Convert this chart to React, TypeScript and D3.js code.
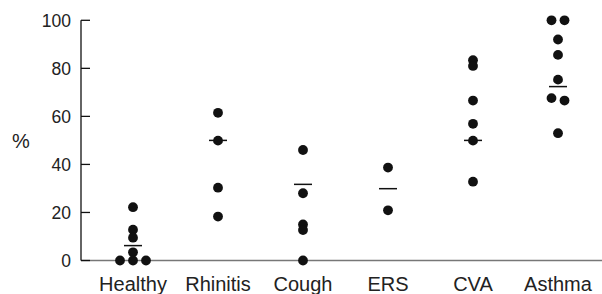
import React from "react";
import * as d3 from "d3";

const categories = ["Healthy", "Rhinitis", "Cough", "ERS", "CVA", "Asthma"];
const healthy = [0, 0, 0, 3.4, 9.5, 12.8, 22.2];
const rhinitis = [61.5, 49.9, 30.3, 18.3];
const cough = [46, 28, 15, 12.7, 0];
const ers = [38.7, 20.9];
const cva = [83.4, 81, 66.6, 56.9, 49.9, 32.8];
const asthma = [100, 100, 92, 85.6, 75.3, 67.6, 66.6, 53];
const seriesValues = [healthy, rhinitis, cough, ers, cva, asthma];
const meanValues = [6.2, 50, 31.7, 29.9, 50, 72.4];
const yTicks = [0, 20, 40, 60, 80, 100];

const W = 602;
const H = 294;

export default function App() {
  const x = d3.scalePoint<string>().domain(categories).range([133, 558]);
  const y = d3.scaleLinear().domain([0, 100]).range([260.5, 20.3]);
  const r = 4.9;
  const spacing = 13;
  const axisX = 81;

  const dots: { cx: number; cy: number; key: string }[] = [];
  seriesValues.forEach((vals, ci) => {
    const cx0 = x(categories[ci]) as number;
    const sorted = [...vals].sort((a, b) => b - a);
    // cluster points whose pixel positions nearly coincide
    const clusters: number[][] = [];
    sorted.forEach((v) => {
      const last = clusters[clusters.length - 1];
      if (last && Math.abs(y(last[0]) - y(v)) < 4) last.push(v);
      else clusters.push([v]);
    });
    clusters.forEach((cl, k) => {
      cl.forEach((v, i) => {
        dots.push({
          cx: cx0 + (i - (cl.length - 1) / 2) * spacing,
          cy: y(v),
          key: `${ci}-${k}-${i}`,
        });
      });
    });
  });

  return (
    <svg width={W} height={H} style={{ position: "absolute", left: 0, top: 0 }}>
      <rect width={W} height={H} fill="#fff" />
      {/* x axis */}
      <line x1={axisX} x2={W} y1={y(0)} y2={y(0)} stroke="#777" strokeWidth={1.6} />
      {/* y axis */}
      <line x1={axisX} x2={axisX} y1={y(100)} y2={y(0)} stroke="#111" strokeWidth={1.3} />
      {yTicks.map((t) => (
        <g key={t}>
          <line x1={axisX} x2={axisX + 9} y1={y(t)} y2={y(t)} stroke="#111" strokeWidth={1.3} />
          <text
            x={71}
            y={y(t)}
            dy="0.36em"
            textAnchor="end"
            fontFamily="Liberation Sans, Arial, sans-serif"
            fontSize={17.5}
            fill="#222"
          >
            {t}
          </text>
        </g>
      ))}
      <text x={21} y={148} textAnchor="middle" fontFamily="Liberation Sans, Arial, sans-serif" fontSize={20} fill="#222">
        %
      </text>
      {categories.map((c) => (
        <text
          key={c}
          x={x(c)}
          y={291}
          textAnchor="middle"
          fontFamily="Liberation Sans, Arial, sans-serif"
          fontSize={20}
          fill="#222"
        >
          {c}
        </text>
      ))}
      {dots.map((d) => (
        <circle key={d.key} cx={d.cx} cy={d.cy} r={r} fill="#111" />
      ))}
      {meanValues.map((m, i) => (
        <line
          key={i}
          x1={(x(categories[i]) as number) - 9}
          x2={(x(categories[i]) as number) + 9}
          y1={y(m)}
          y2={y(m)}
          stroke="#111"
          strokeWidth={1.5}
        />
      ))}
    </svg>
  );
}
